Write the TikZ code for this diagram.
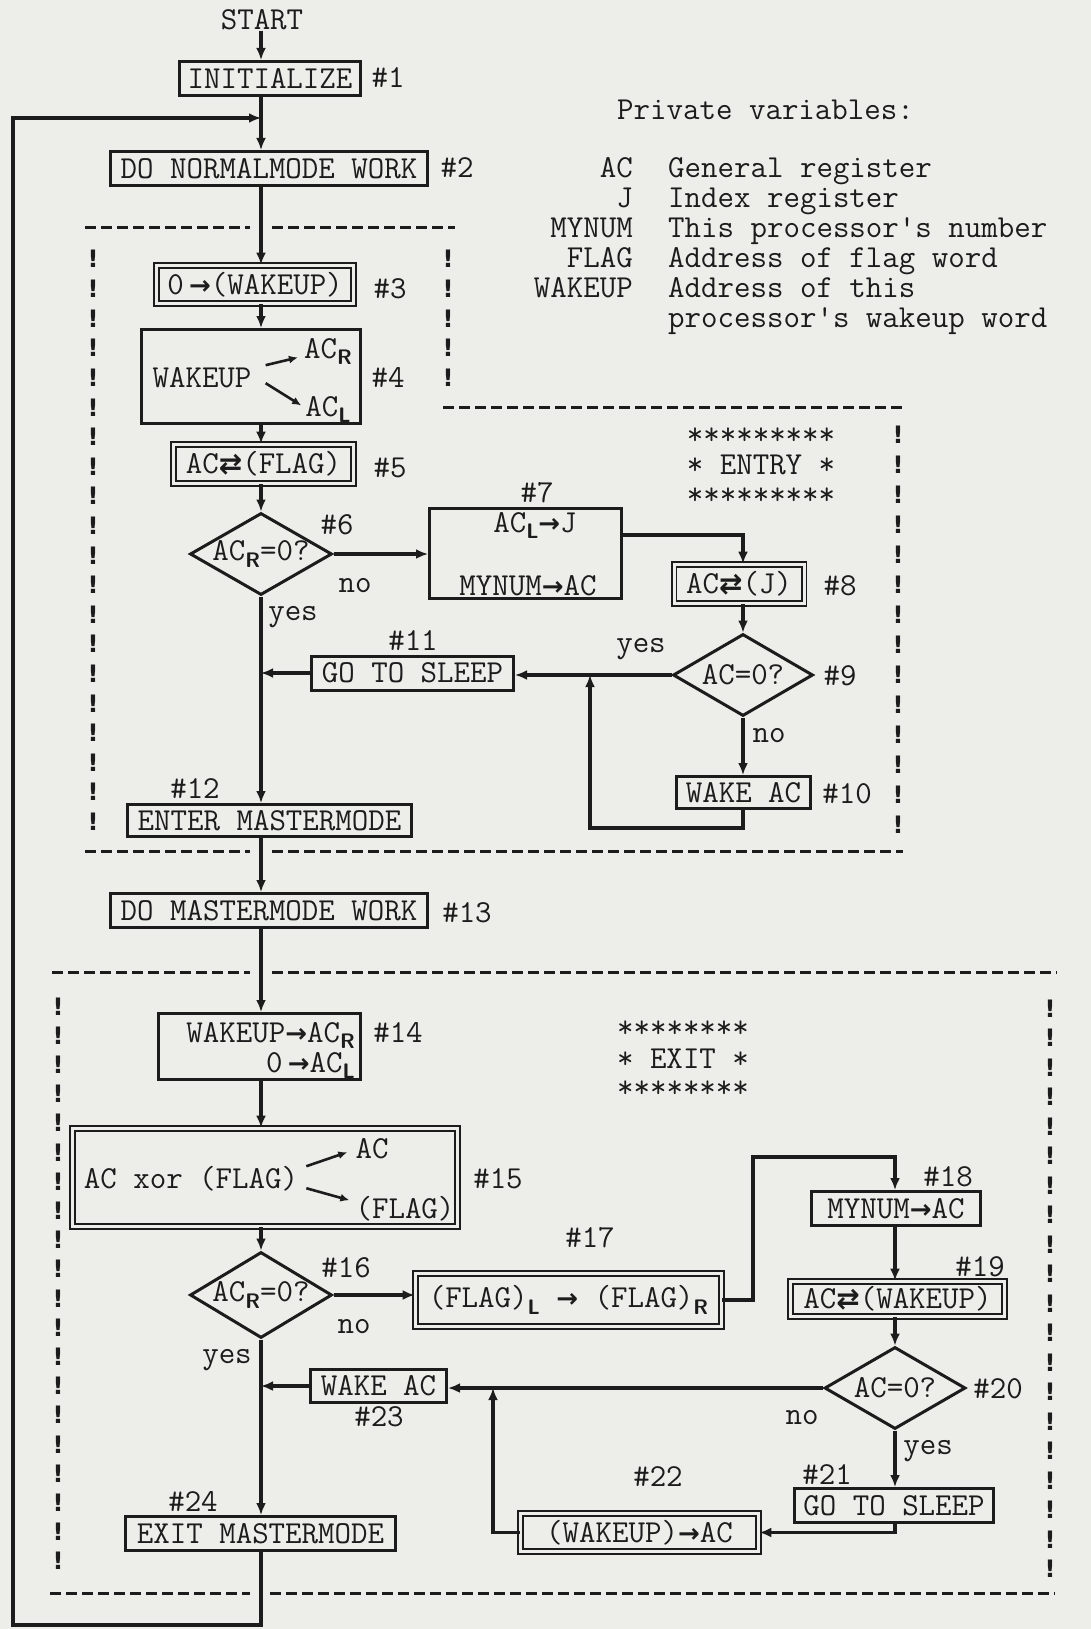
\RequirePackage{fix-cm}
\documentclass[tikz,border=0pt]{standalone}
\usepackage{fontspec}
\newfontfamily\arrowfont{DejaVu Sans}
\usetikzlibrary{arrows.meta,shapes.geometric,calc}
\definecolor{paper}{RGB}{237,237,233}
\definecolor{ink}{RGB}{28,28,28}
\newcommand\lsub[1]{\raisebox{-0.5ex}{\fontsize{21}{21}\selectfont\sffamily\bfseries #1}}
\newcommand\rar{{\arrowfont\bfseries\fontsize{26}{26}\selectfont →}}
\newcommand\swp{{\arrowfont\bfseries\fontsize{28}{28}\selectfont ⇄}}
\newcommand\bang{{\arrowfont\bfseries\fontsize{24}{24}\selectfont !}}
\begin{document}
\begin{tikzpicture}[x=1pt,y=-1pt,
  every node/.style={font=\fontsize{32}{38}\selectfont\ttfamily, text=ink, inner sep=0pt},
  box/.style={draw=ink, line width=3pt, rectangle},
  dbox/.style={draw=ink, line width=1.8pt, double=paper, double distance=3pt, rectangle},
  dia/.style={draw=ink, line width=3pt, diamond},
  arr/.style={draw=ink, line width=3.2pt, -{Latex[length=12pt,width=10pt]}},
  sarr/.style={draw=ink, line width=2.6pt, -{Latex[length=9pt,width=8pt]}},
  dsh/.style={draw=ink, line width=3pt, dash pattern=on 11pt off 5pt},
  lab/.style={anchor=base},
  ex/.style={anchor=base}
]
\fill[paper] (0,0) rectangle (1091,1629);
\useasboundingbox (0,0) rectangle (1091,1629);

% column coordinates
\coordinate (ml) at (261,0);
\coordinate (c2) at (743,0);
\coordinate (c3) at (895,0);

% ---------------- dashed frames ----------------
\draw[dsh] (85,228) -- (250,228);
\draw[dsh] (272,228) -- (455,228);
\draw[dsh] (443,407) -- (903,407);
\draw[dsh] (85,851) -- (250,851);
\draw[dsh] (272,851) -- (903,851);
\draw[dsh] (52,972) -- (250,972);
\draw[dsh] (272,972) -- (1057,972);
\draw[dsh] (50,1593) -- (250,1593);
\draw[dsh] (270,1593) -- (1055,1593);

\foreach \i in {0,...,19} \node[ex] (ea\i) at (93,{268+29.6*\i}) {\bang};
\foreach \i in {0,...,4} \node[ex] (eb\i) at (448,{268+29.6*\i}) {\bang};
\foreach \i in {0,...,13} \node[ex] (ec\i) at (898,{443+30*\i}) {\bang};
\foreach \i in {0,...,19} \node[ex] (xa\i) at (58,{1015+29.2*\i}) {\bang};
\foreach \i in {0,...,19} \node[ex] (xb\i) at (1050,{1017+29.5*\i}) {\bang};

% ---------------- private variables ----------------
\node[anchor=base west] (pv) at (617,120) {Private variables:};
\node[anchor=base east] (v1) at (633,178) {AC};
\node[anchor=base east] (v2) at (633,208) {J};
\node[anchor=base east] (v3) at (633,238) {MYNUM};
\node[anchor=base east] (v4) at (633,268) {FLAG};
\node[anchor=base east] (v5) at (633,297) {WAKEUP};
\node[anchor=base west] (w1) at (668,178) {General register};
\node[anchor=base west] (w2) at (668,208) {Index register};
\node[anchor=base west] (w3) at (668,238) {This processor's number};
\node[anchor=base west] (w4) at (668,268) {Address of flag word};
\node[anchor=base west] (w5) at (668,297) {Address of this};
\node[anchor=base west] (w6) at (668,327) {processor's wakeup word};

% ---------------- ENTRY / EXIT banners ----------------
\node[lab] (en1) at (761,444) {*********};
\node[lab] (en2) at (761,474) {* ENTRY *};
\node[lab] (en3) at (761,504) {*********};
\node[lab] (ex1) at (683,1037) {********};
\node[lab] (ex2) at (683,1068) {* EXIT *};
\node[lab] (ex3) at (683,1097) {********};

% ---------------- boxes ----------------
\node[lab] (start) at (262,30) {START};
\node[box, minimum width=181pt, minimum height=34pt] (n1) at (270,78.5) {INITIALIZE};
\node[lab] (l1) at (388,88) {\#1};
\node[box, minimum width=317pt, minimum height=34pt] (n2) at (269,168.5) {DO NORMALMODE WORK};
\node[lab] (l2) at (457,178) {\#2};
\node[dbox, minimum width=197pt, minimum height=38pt] (n3) at (255,284.5) {0\,\rar(WAKEUP)};
\node[lab] (l3) at (390,298) {\#3};

\node[box, minimum width=219pt, minimum height=94pt] (n4) at (251,376.5) {};
\node[lab] (t4) at (202,387) {WAKEUP};
\node[lab] (t4r) at (328,358) {AC\lsub R};
\node[lab] (t4l) at (328,416) {AC\lsub L};
\draw[sarr] ($(t4.east)+(14,-12)$) -- ($(t4r.west)+(-6,6)$);
\draw[sarr] ($(t4.east)+(14,6)$) -- ($(t4l.west)+(-4,-4)$);
\node[lab] (l4) at (388,387) {\#4};

\node[dbox, minimum width=180pt, minimum height=39pt] (n5) at (263.5,464) {AC\swp(FLAG)};
\node[lab] (l5) at (390,477) {\#5};

\node[dia, minimum width=142pt, minimum height=82pt] (d6) at (261,554) {\makebox[0pt]{AC\lsub R=0?}};
\node[lab] (l6) at (337,534) {\#6};
\node[lab] (no6) at (355,592) {no};
\node[lab] (yes6) at (293,620) {yes};

\node[box, minimum width=192pt, minimum height=90pt] (n7) at (525.5,553.5) {};
\node[lab] (t7a) at (535,532) {AC\lsub L\rar J};
\node[lab] (t7b) at (528,595) {MYNUM\rar AC};
\node[lab] (l7) at (537,502) {\#7};

\node[dbox, minimum width=130pt, minimum height=39pt] (n8) at (739,584) {AC\swp(J)};
\node[lab] (l8) at (840,595) {\#8};

\node[dia, minimum width=140pt, minimum height=82pt] (d9) at (743,675) {\makebox[0pt]{AC=0?}};
\node[lab] (l9) at (840,685) {\#9};
\node[lab] (yes9) at (641,652) {yes};
\node[lab] (no9) at (769,742) {no};

\node[box, minimum width=134pt, minimum height=32pt] (n10) at (743.5,792.5) {WAKE AC};
\node[lab] (l10) at (847,803) {\#10};

\node[box, minimum width=202pt, minimum height=34pt] (n11) at (412.5,673) {GO TO SLEEP};
\node[lab] (l11) at (413,650) {\#11};

\node[box, minimum width=284pt, minimum height=32pt] (n12) at (269.5,820.5) {ENTER MASTERMODE};
\node[lab] (l12) at (195,798) {\#12};

\node[box, minimum width=317pt, minimum height=34pt] (n13) at (269,910.5) {DO MASTERMODE WORK};
\node[lab] (l13) at (467,922) {\#13};

\node[box, minimum width=202pt, minimum height=66pt] (n14) at (259.5,1046.5) {};
\node[anchor=base east] (t14a) at (355,1042) {WAKEUP\rar AC\lsub R};
\node[anchor=base east] (t14b) at (355,1072) {0\,\rar AC\lsub L};
\node[lab] (l14) at (398,1042) {\#14};

\node[dbox, minimum width=385pt, minimum height=98pt] (n15) at (265,1177.5) {};
\node[lab] (t15) at (191,1188) {AC xor (FLAG)};
\node[lab] (t15a) at (372,1158) {AC};
\node[lab] (t15b) at (405,1218) {(FLAG)};
\draw[sarr] ($(t15.east)+(8,-12)$) -- ($(t15a.west)+(-8,4)$);
\draw[sarr] ($(t15.east)+(8,10)$) -- ($(t15b.west)+(-6,-8)$);
\node[lab] (l15) at (498,1188) {\#15};

\node[dia, minimum width=142pt, minimum height=86pt] (d16) at (261,1295) {\makebox[0pt]{AC\lsub R=0?}};
\node[lab] (l16) at (346,1277) {\#16};
\node[lab] (no16) at (354,1333) {no};
\node[lab] (yes16) at (227,1363) {yes};

\node[dbox, minimum width=306pt, minimum height=53pt] (n17) at (568.5,1300) {(FLAG)\lsub L \rar{} (FLAG)\lsub R};
\node[lab] (l17) at (590,1247) {\#17};

\node[box, minimum width=169pt, minimum height=34pt] (n18) at (896,1208.5) {MYNUM\rar AC};
\node[lab] (l18) at (948,1186) {\#18};

\node[dbox, minimum width=214pt, minimum height=35pt] (n19) at (897.5,1299) {AC\swp(WAKEUP)};
\node[lab] (l19) at (980,1276) {\#19};

\node[dia, minimum width=141pt, minimum height=82pt] (d20) at (895,1388) {\makebox[0pt]{AC=0?}};
\node[lab] (l20) at (998,1398) {\#20};
\node[lab] (no20) at (802,1424) {no};
\node[lab] (yes20) at (928,1454) {yes};

\node[box, minimum width=199pt, minimum height=34pt] (n21) at (894,1505.5) {GO TO SLEEP};
\node[lab] (l21) at (827,1484) {\#21};

\node[dbox, minimum width=238pt, minimum height=38pt] (n22) at (639.5,1532.5) {(WAKEUP)\rar AC};
\node[lab] (l22) at (658,1486) {\#22};

\node[box, minimum width=136pt, minimum height=33pt] (n23) at (378.5,1386) {WAKE AC};
\node[lab] (l23) at (379,1426) {\#23};

\node[box, minimum width=270pt, minimum height=34pt] (n24) at (260.5,1533.5) {EXIT MASTERMODE};
\node[lab] (l24) at (193,1511) {\#24};

% ---------------- connectors ----------------
\coordinate (tl) at (13,118);
\coordinate (bl) at (13,1625);
\draw[arr] (start.south -| ml) -- (n1.north -| ml);
\draw[arr] (n1.south -| ml) -- (n2.north -| ml);
\draw[arr] (n2.south -| ml) -- (n3.north -| ml);
\draw[arr] (n3.south -| ml) -- (n4.north -| ml);
\draw[arr] (n4.south -| ml) -- (n5.north -| ml);
\draw[arr] (n5.south -| ml) -- (d6.north);
\draw[arr] (d6.south) -- (n12.north -| ml);
\draw[arr] (d6.east) -- (d6.east -| n7.west);
\coordinate (k7) at ($(n7.north east)!0.3!(n7.south east)$);
\draw[arr] (k7) -| (n8.north -| c2);
\draw[arr] (n8.south -| c2) -- (d9.north);
\draw[arr] (d9.west) -- (d9.west -| n11.east);
\draw[arr] (d9.south) -- (n10.north -| c2);
\coordinate (lp) at (590,828);
\draw[arr] (n10.south -| c2) |- (lp) -- (lp |- d9.west);
\draw[arr] (n11.west) -- (n11.west -| ml);
\draw[arr] (n12.south -| ml) -- (n13.north -| ml);
\draw[arr] (n13.south -| ml) -- (n14.north -| ml);
\draw[arr] (n14.south -| ml) -- (n15.north -| ml);
\draw[arr] (n15.south -| ml) -- (d16.north);
\draw[arr] (d16.east) -- (d16.east -| n17.west);
\coordinate (k17) at (753,1157);
\draw[arr] (n17.east) -| (k17) -| (n18.north -| c3);
\draw[arr] (n18.south -| c3) -- (n19.north -| c3);
\draw[arr] (n19.south -| c3) -- (d20.north);
\draw[arr] (d20.west) -- (d20.west -| n23.east);
\draw[arr] (d20.south) -- (n21.north -| c3);
\draw[arr] (n21.south -| c3) |- (n22.east);
\coordinate (k22) at (493,1388);
\draw[arr] (n22.west) -| (k22);
\draw[arr] (n23.west) -- (n23.west -| ml);
\draw[arr] (d16.south) -- (n24.north -| ml);
\draw[arr] (n24.south -| ml) |- (bl) -- (tl) -- (tl -| ml);
\end{tikzpicture}
\end{document}
